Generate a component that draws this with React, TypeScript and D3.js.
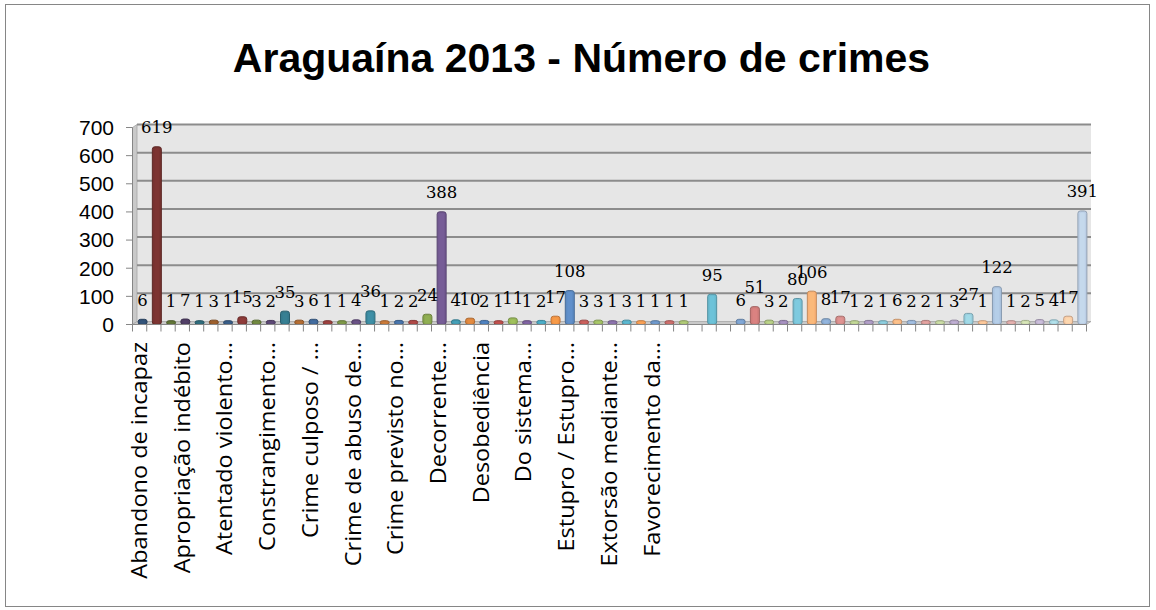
import React from "react";
import * as d3 from "d3";

const title = "Araguaína 2013 - Número de crimes";

const values: (number | null)[] = [
  6, 619, 1, 7, 1, 3, 1, 15, 3, 2,
  35, 3, 6, 1, 1, 4, 36, 1, 2, 2,
  24, 388, 4, 10, 2, 1, 11, 1, 2, 17,
  108, 3, 3, 1, 3, 1, 1, 1, 1, null,
  95, null, 6, 51, 3, 2, 80, 106, 8, 17,
  1, 2, 1, 6, 2, 2, 1, 3, 27, 1,
  122, 1, 2, 5, 4, 17, 391,
];

const tickLabels = [
  "Abandono de incapaz",
  "Apropriação indébito",
  "Atentado violento…",
  "Constrangimento…",
  "Crime culposo / …",
  "Crime de abuso de…",
  "Crime previsto no…",
  "Decorrente…",
  "Desobediência",
  "Do sistema…",
  "Estupro / Estupro…",
  "Extorsão mediante…",
  "Favorecimento da…",
];
const labelEvery = 3;

const yTicks = [0, 100, 200, 300, 400, 500, 600, 700];

const accents = ["#4F81BD", "#C0504D", "#9BBB59", "#8064A2", "#4BACC6", "#F79646"];

const W = 1156;
const H = 610;

function pointColor(i: number, n: number) {
  const rounds = Math.ceil(n / accents.length);
  const r = Math.floor(i / accents.length);
  const b = -0.38 + (1.0 * r) / (rounds - 1);
  const c = d3.rgb(accents[i % accents.length]);
  const f = (v: number) => (b < 0 ? v * (1 + b) : v + (255 - v) * b);
  return d3.rgb(f(c.r), f(c.g), f(c.b)).formatHex();
}

export default function App() {
  const idx = values.map((_, i) => i);
  const x = d3.scaleBand<number>().domain(idx).range([132.5, 1086.5]).padding(0);
  const y = d3.scaleLinear().domain([0, 700]).range([324.5, 127.5]);
  const bw = x.bandwidth();
  const wallDx = 4.5;
  const wallDy = -3;
  const barDx = 3;
  const barDy = -1.5;
  const barW = 9;

  const x0 = x.range()[0];
  const x1 = x.range()[1];

  return (
    <div style={{ position: "absolute", left: 0, top: 0 }}>
      <svg width={W} height={H} style={{ display: "block", background: "#fff" }}>
        <rect x={5.5} y={4.5} width={1144} height={602} fill="#fff" stroke="#868686" strokeWidth={1} />
        <text
          x={581.5}
          y={72}
          textAnchor="middle"
          fontFamily="Liberation Sans, Arial, sans-serif"
          fontWeight="bold"
          fontSize={41}
          fill="#000"
        >
          {title}
        </text>

        {/* back wall */}
        <rect
          x={x0 + wallDx}
          y={y(700) + wallDy}
          width={x1 - x0}
          height={y(0) - y(700)}
          fill="#e6e6e6"
        />
        {/* side wall */}
        <polygon
          points={`${x0},${y(700)} ${x0 + wallDx},${y(700) + wallDy} ${x0 + wallDx},${y(0) + wallDy} ${x0},${y(0)}`}
          fill="#c9c9c9"
          stroke="#a6a6a6"
          strokeWidth={0.8}
        />
        {/* floor */}
        <polygon
          points={`${x0},${y(0)} ${x0 + wallDx},${y(0) + wallDy} ${x1 + wallDx},${y(0) + wallDy} ${x1},${y(0)}`}
          fill="#c9c9c9"
          stroke="#a6a6a6"
          strokeWidth={0.8}
        />
        {/* gridlines */}
        {yTicks.filter((t) => t > 0).map((t) => (
          <line
            key={"g" + t}
            x1={x0 + wallDx}
            x2={x1 + wallDx}
            y1={y(t) + wallDy}
            y2={y(t) + wallDy}
            stroke="#8c8c8c"
            strokeWidth={2}
          />
        ))}

        {/* bars */}
        {values.map((v, i) => {
          if (v === null) return null;
          const cx = (x(i) as number) + bw / 2 + barDx;
          const top = y(v) + barDy - 2;
          const bottom = y(0) + barDy + 1.5;
          const col = pointColor(i, values.length);
          const dark = d3.rgb(col).darker(0.7).formatHex();
          const light = d3.rgb(col).brighter(0.5).formatHex();
          return (
            <g key={"b" + i}>
              <rect
                x={cx - barW / 2}
                y={top}
                width={barW}
                height={bottom - top}
                rx={2.5}
                fill={col}
                stroke={dark}
                strokeWidth={1}
              />
              <rect
                x={cx - barW / 2 + 2}
                y={top + 1.5}
                width={barW - 4}
                height={Math.max(0, bottom - top - 3)}
                rx={1.5}
                fill={light}
                opacity={0.25}
              />
            </g>
          );
        })}

        {/* axes */}
        <line x1={x0} x2={x0} y1={y(700)} y2={y(0)} stroke="#868686" strokeWidth={1} />
        <line x1={x0} x2={x1} y1={y(0)} y2={y(0)} stroke="#868686" strokeWidth={1} />
        {yTicks.map((t) => (
          <g key={"yt" + t}>
            <line x1={126} x2={x0} y1={y(t)} y2={y(t)} stroke="#868686" strokeWidth={1} />
            <text
              x={114}
              y={y(t)}
              dy="0.35em"
              textAnchor="end"
              fontFamily="Liberation Sans, Arial, sans-serif"
              fontSize={21}
              fill="#000"
            >
              {t}
            </text>
          </g>
        ))}
        {idx.concat([values.length]).map((i) => {
          const xx = i < values.length ? (x(i) as number) : x1;
          return <line key={"xt" + i} x1={xx} x2={xx} y1={y(0)} y2={y(0) + 7} stroke="#868686" strokeWidth={1} />;
        })}
        {tickLabels.map((lab, k) => {
          const i = k * labelEvery;
          const cx = (x(i) as number) + bw / 2;
          return (
            <text
              key={"cl" + k}
              transform={`translate(${cx},342) rotate(-90) scale(1.12,1)`}
              dy="0.35em"
              textAnchor="end"
              fontFamily="Open Sans, sans-serif"
              fontSize={21}
              fill="#000"
            >
              {lab}
            </text>
          );
        })}

        {/* data labels */}
        {values.map((v, i) => {
          if (v === null) return null;
          const cx = (x(i) as number) + bw / 2 + barDx;
          return (
            <text
              key={"dl" + i}
              x={cx}
              y={y(v) - 17}
              textAnchor="middle"
              fontFamily="DejaVu Serif, serif"
              fontSize={16.5}
              fill="#000"
            >
              {v}
            </text>
          );
        })}
      </svg>
    </div>
  );
}
